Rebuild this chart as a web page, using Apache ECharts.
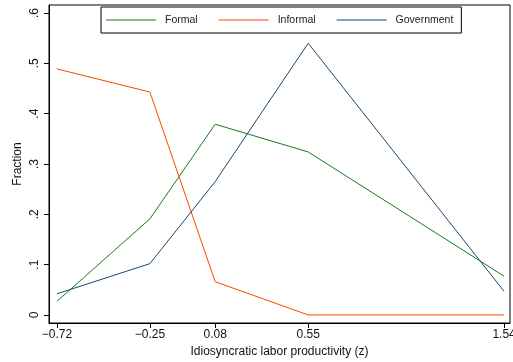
<!DOCTYPE html>
<html>
<head>
<meta charset="utf-8">
<script src="https://cdn.jsdelivr.net/npm/echarts@6/dist/echarts.min.js"></script>
<style>
  html, body { margin: 0; padding: 0; background: #fff; }
  #chart { width: 513px; height: 362px; }
</style>
</head>
<body>
<div id="chart"></div>
<script>
// productivity grid points (z)
var zValues = [-0.72, -0.25, 0.08, 0.55, 1.54]
var formal = [0.027, 0.191, 0.379, 0.324, 0.077]
var informal = [0.489, 0.443, 0.066, 0, 0]
var government = [0.042, 0.102, 0.265, 0.540, 0.047]
var yTicks = [0, 0.1, 0.2, 0.3, 0.4, 0.5, 0.6]

function pairs(vals) {
  return zValues.map(function (z, i) { return [z, vals[i]] })
}

function fmtY(v) {
  if (v === 0) return '0'
  return '.' + Math.round(v * 10)
}

var font = 'Liberation Sans, Arial, sans-serif'
var chart = echarts.init(document.getElementById('chart'))

chart.setOption({
  animation: false,
  backgroundColor: '#fff',
  grid: {
    left: 49,
    right: 3,
    top: 5,
    bottom: 39,
    containLabel: false,
    outerBoundsMode: 'none',
    show: true,
    borderColor: '#000',
    borderWidth: 1
  },
  legend: {
    left: 101,
    top: 7,
    padding: [7, 8, 7, 5],
    borderColor: '#000',
    borderWidth: 1,
    backgroundColor: '#fff',
    icon: 'rect',
    itemWidth: 50,
    itemHeight: 1.2,
    itemGap: 21,
    textStyle: { fontFamily: font, fontSize: 10.5, color: '#222', padding: [0, 0, 0, 4], lineHeight: 12 },
    data: ['Formal', 'Informal', 'Government']
  },
  xAxis: {
    type: 'value',
    min: -0.76,
    max: 1.57,
    name: 'Idiosyncratic labor productivity (z)',
    nameLocation: 'middle',
    nameGap: 23,
    nameMoveOverlap: false,
    nameTextStyle: { fontFamily: font, fontSize: 12, color: '#111' },
    splitLine: { show: false },
    axisLine: { onZero: false, lineStyle: { color: '#000' } },
    axisTick: { length: 5, lineStyle: { color: '#000' }, customValues: zValues },
    axisLabel: {
      fontFamily: font, fontSize: 12, color: '#111', margin: 6,
      customValues: zValues,
      formatter: function (v) { return v.toFixed(2).replace('-', '\u2212') }
    }
  },
  yAxis: {
    type: 'value',
    min: -0.016,
    max: 0.616,
    name: 'Fraction',
    nameLocation: 'middle',
    nameGap: 25,
    nameMoveOverlap: false,
    nameTextStyle: { fontFamily: font, fontSize: 12, color: '#111' },
    splitLine: { show: false },
    axisLine: { show: true, onZero: false, lineStyle: { color: '#000' } },
    axisTick: { show: true, length: 5, lineStyle: { color: '#000' }, customValues: yTicks },
    axisLabel: {
      fontFamily: font, fontSize: 12, color: '#111', margin: 8, rotate: 90,
      customValues: yTicks,
      formatter: fmtY
    }
  },
  series: [
    {
      name: 'Formal', type: 'line', symbol: 'none',
      itemStyle: { color: '#1a7a1a' },
      lineStyle: { color: '#1a7a1a', width: 1 },
      data: pairs(formal)
    },
    {
      name: 'Informal', type: 'line', symbol: 'none',
      itemStyle: { color: '#ff4500' },
      lineStyle: { color: '#ff4500', width: 1 },
      data: pairs(informal)
    },
    {
      name: 'Government', type: 'line', symbol: 'none',
      itemStyle: { color: '#1a476f' },
      lineStyle: { color: '#1a476f', width: 1 },
      data: pairs(government)
    }
  ]
})
</script>
</body>
</html>
